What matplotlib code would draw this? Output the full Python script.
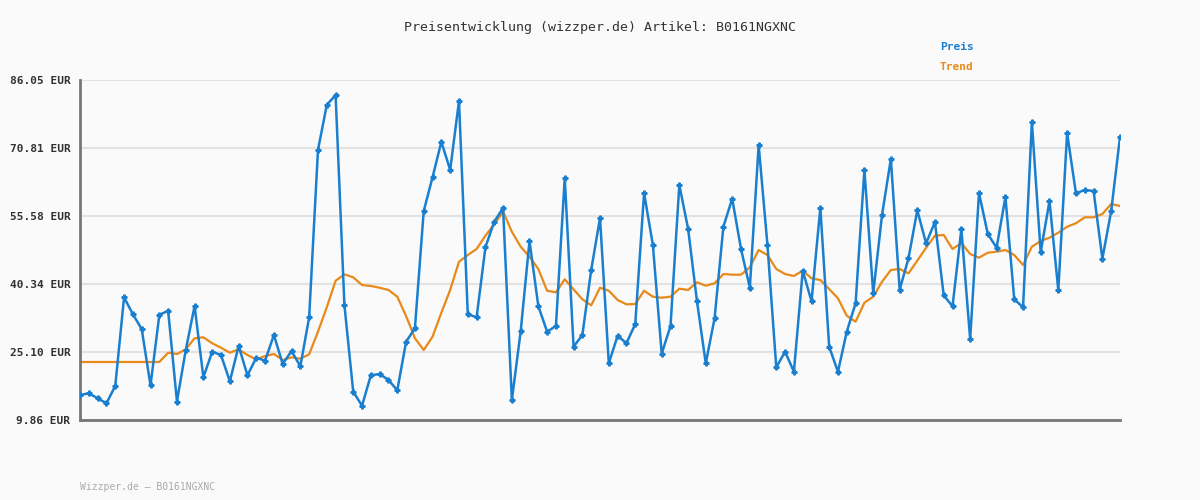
import matplotlib
matplotlib.use("Agg")
import matplotlib.pyplot as plt
import numpy as np

preis = [15.46,15.84,14.72,13.60,17.48,37.35,33.55,30.25,17.63,33.39,34.35,14.00,25.54,35.40,19.43,25.16,24.42,18.53,26.44,19.88,
23.82,23.15,28.91,22.41,25.32,21.89,32.87,70.36,80.45,82.69,35.63,16.20,13.06,19.88,20.17,18.83,16.51,27.41,30.41,56.69,
64.25,72.22,65.88,81.34,33.55,32.87,48.56,54.30,57.37,14.34,29.74,49.97,35.40,29.65,30.92,64.09,26.28,28.91,43.47,55.12,
22.56,28.75,27.05,31.37,60.73,49.07,24.72,30.92,62.52,52.66,36.52,22.56,32.65,53.18,59.45,48.18,39.50,71.48,49.07,21.67,
25.16,20.68,43.32,36.46,57.43,26.28,20.68,29.65,36.01,65.88,38.25,55.80,68.35,39.06,46.09,56.85,49.45,54.23,37.80,35.33,
52.66,27.94,60.73,51.54,48.47,59.83,36.91,35.11,76.64,47.44,58.94,38.93,74.17,60.66,61.40,61.18,46.00,56.69,73.28]
trend = [22.86]*10 + [24.94,24.65,25.70,28.17,28.39,27.05,26.06,24.94,25.70,24.42,23.46,24.20,24.65,23.30,23.91,23.60,24.58,
29.65,35.11,41.07,42.50,41.84,40.11,39.89,39.50,39.00,37.49,33.16,28.17,25.54,28.53,33.90,39.00,45.33,46.83,48.18,51.16,
53.71,56.54,52.05,48.69,46.45,43.70,38.83,38.47,41.39,39.14,36.91,35.56,39.50,38.83,36.75,35.78,35.85,38.83,37.49,37.26,
37.49,39.28,39.00,40.72,39.95,40.49,42.57,42.42,42.42,44.08,47.95,46.83,43.70,42.57,42.13,43.32,41.61,41.23,39.21,37.13,
33.23,31.89,36.14,37.49,40.85,43.47,43.70,42.73,45.56,48.47,51.16,51.32,48.18,49.52,47.06,46.23,47.35,47.57,47.95,46.83,
44.59,48.69,49.97,50.71,51.83,53.18,53.94,55.28,55.28,56.02,58.27,57.81]
yticks = [9.86,25.10,40.34,55.58,70.81,86.05]
title = "Preisentwicklung (wizzper.de) Artikel: B0161NGXNC"
footer = "Wizzper.de – B0161NGXNC"

blue = "#1a7fcf"; orange = "#e8891a"; bg = "#fafafa"
mono = "DejaVu Sans Mono"
fig = plt.figure(figsize=(12, 5), dpi=100, facecolor=bg)
ax = fig.add_axes([80/1200, 80/500, 1040/1200, 340/500], facecolor=bg)
n = len(preis)
xp = np.arange(n)
xt = np.linspace(0, n - 1, len(trend))
ax.plot(xt, trend, color=orange, lw=1.6, zorder=2)
ax.plot(xp, preis, color=blue, lw=1.8, marker="P", ms=3.5, zorder=3)
ax.set_xlim(0, n - 1)
ax.set_ylim(9.86, 86.05)
ax.set_yticks(yticks)
ax.set_yticklabels([f"{v:.2f} EUR" for v in yticks], fontfamily=mono, fontsize=8, fontweight="bold", color="#333333")
ax.set_xticks([])
ax.tick_params(axis="y", length=0, pad=7)
ax.grid(axis="y", color="#e2e2e2", lw=1.5)
ax.set_axisbelow(True)
for s in ["top", "right"]:
    ax.spines[s].set_visible(False)
for s in ["left", "bottom"]:
    ax.spines[s].set_color("#777777"); ax.spines[s].set_linewidth(2)
fig.text(0.5, 1 - 28/500, title, ha="center", va="center", fontfamily=mono, fontsize=9.5, color="#333333")
fig.text(940/1200, 1 - 47/500, "Preis", ha="left", va="center", fontfamily=mono, fontsize=8, fontweight="bold", color=blue)
fig.text(940/1200, 1 - 67/500, "Trend", ha="left", va="center", fontfamily=mono, fontsize=8, fontweight="bold", color=orange)
fig.text(80/1200, 1 - 487/500, footer, ha="left", va="center", fontfamily=mono, fontsize=7, color="#aaaaaa")
fig.savefig("out.png", dpi=100, facecolor=bg)
